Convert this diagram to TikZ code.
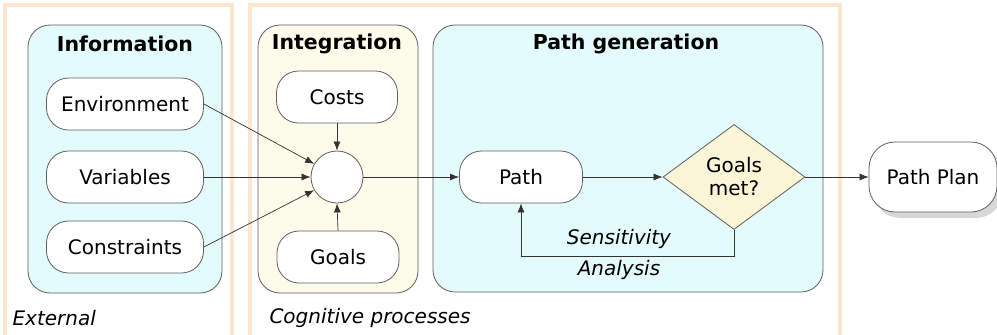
\documentclass[tikz,border=0pt]{standalone}
\usepackage{fontspec}
\setmainfont{DejaVu Sans}
\usepackage{tikz}
\usetikzlibrary{shapes,arrows,positioning,calc,shadows,arrows.meta}
\definecolor{frameOrange}{RGB}{252, 230, 208}
\definecolor{infoCyan}{RGB}{228, 251, 251}
\definecolor{integYellow}{RGB}{253, 251, 234}
\definecolor{diamondYellow}{RGB}{250, 245, 215}
\definecolor{edgeGray}{RGB}{95, 95, 95}

\begin{document}
\begin{tikzpicture}[x=1pt,y=-1pt,
    font=\fontsize{20}{23}\selectfont,
    frame/.style={draw=frameOrange,line width=4.5pt},
    group/.style={draw=edgeGray,line width=0.8pt,rounded corners=22pt},
    title/.style={font=\fontsize{20.5}{23}\selectfont\bfseries},
    block/.style={draw=edgeGray,fill=white,line width=0.8pt,rounded corners=22pt,
        minimum height=52pt,inner sep=0pt},
    note/.style={font=\fontsize{20}{23}\selectfont\itshape},
    link/.style={draw=black!80,line width=0.7pt,-{Latex[length=9pt,width=7pt]}}]
    \useasboundingbox (0,0) rectangle (997,335);
    \fill[white] (0,0) rectangle (997,335);

    % outer frames
    \draw[frame] (5,5) rectangle (232,340);
    \draw[frame] (250,5) rectangle (840,340);
    \node[note,anchor=west] (external) at (9,318) {External};
    \node[note,anchor=west] (cognitive) at (266,318) {Cognitive processes};

    % group boxes
    \draw[group,fill=infoCyan] (28,25) rectangle (222,293);
    \draw[group,fill=integYellow] (258,25) rectangle (418,293);
    \draw[group,fill=infoCyan] (433,25) rectangle (823,292);
    \node[title] (infoTitle) at (125,44) {Information};
    \node[title] (integTitle) at (337,44) {Integration};
    \node[title] (pathTitle) at (626,44) {Path generation};

    % information sources
    \node[block,minimum width=157pt] (environment) at (125,104) {Environment};
    \node[block,minimum width=157pt] (variables) at (125,177) {Variables};
    \node[block,minimum width=157pt] (constraints) at (125,247) {Constraints};

    % integration
    \node[block,minimum width=121pt] (costs) at (337,97) {Costs};
    \node[block,minimum width=122pt] (goals) at (338,257) {Goals};
    \node[draw=edgeGray,fill=white,line width=0.8pt,circle,minimum size=52pt,inner sep=0pt]
        (merge) at (337,177) {};

    % path generation
    \node[block,minimum width=123pt] (path) at (521,177) {Path};
    \node[draw=edgeGray,fill=diamondYellow,line width=0.8pt,diamond,aspect=1.35,
        minimum width=142pt,minimum height=105pt,inner sep=0pt,align=center]
        (check) at (734,177) {Goals\\met?};
    \node[block,minimum width=128pt,minimum height=70pt,rounded corners=26pt,
        drop shadow={shadow xshift=5pt,shadow yshift=-6pt,fill=black!30}]
        (plan) at (933,177) {Path Plan};

    % connectors
    \draw[link] (environment.east) -- (merge.150);
    \draw[link] (variables.east) -- (merge.west);
    \draw[link] (constraints.east) -- (merge.210);
    \draw[link] (costs.south) -- (merge.north);
    \draw[link] (goals.north) -- (merge.south);
    \draw[link] (merge.east) -- (path.west);
    \draw[link] (path.east) -- (check.west);
    \draw[link] (check.east) -- (plan.west);
    \coordinate (loopRight) at ($(check.south)+(0,26)$);
    \draw[link] (check.south) -- (loopRight) -| (path.south);
    \node[note] (sens) at (619,239) {Sensitivity};
    \node[note] (ana) at (619,270) {Analysis};
\end{tikzpicture}
\end{document}
